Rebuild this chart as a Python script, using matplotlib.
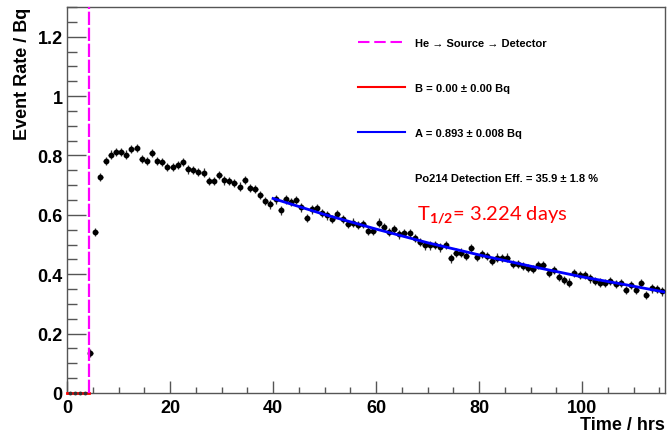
import matplotlib
matplotlib.use("Agg")
import matplotlib.pyplot as plt
import numpy as np
from matplotlib.lines import Line2D
from matplotlib.ticker import MultipleLocator

plt.rcParams["font.family"] = ["Liberation Sans", "DejaVu Sans"]
plt.rcParams["font.weight"] = "bold"
plt.rcParams["axes.labelweight"] = "bold"
plt.rcParams["mathtext.fontset"] = "custom"
plt.rcParams["mathtext.rm"] = "Lato"
plt.rcParams["mathtext.it"] = "Lato:italic"

# 1-hour bins, centres at 0.5 ... 115.5
bin_centres = np.arange(0.5, 116, 1.0)
rates = [
    0.0, 0.0, 0.0, 0.0, 0.135, 0.543, 0.727, 0.782, 0.803, 0.812,
    0.812, 0.803, 0.822, 0.825, 0.787, 0.781, 0.809, 0.781, 0.779, 0.762,
    0.760, 0.768, 0.779, 0.753, 0.751, 0.745, 0.742, 0.714, 0.713, 0.734,
    0.716, 0.713, 0.708, 0.695, 0.718, 0.690, 0.686, 0.666, 0.646, 0.635,
    0.652, 0.615, 0.652, 0.644, 0.651, 0.625, 0.590, 0.618, 0.622, 0.607,
    0.598, 0.585, 0.602, 0.585, 0.568, 0.574, 0.565, 0.568, 0.546, 0.546,
    0.574, 0.560, 0.543, 0.551, 0.534, 0.538, 0.538, 0.521, 0.509, 0.497,
    0.497, 0.498, 0.490, 0.498, 0.453, 0.473, 0.473, 0.462, 0.487, 0.459,
    0.468, 0.462, 0.445, 0.456, 0.454, 0.456, 0.434, 0.434, 0.427, 0.421,
    0.417, 0.430, 0.430, 0.403, 0.414, 0.391, 0.381, 0.372, 0.403, 0.397,
    0.397, 0.386, 0.378, 0.372, 0.370, 0.376, 0.368, 0.371, 0.347, 0.363,
    0.346, 0.370, 0.329, 0.352, 0.350, 0.342,
]
rate_err = 0.014

# He -> Source -> Detector switch time (hrs)
switch_time = 4.33

# background fit (B) and decay fit (A)
bkg_times = [0.0, switch_time]
bkg_level = [0.0, 0.0]
fit_times = [40, 50, 60, 70, 80, 90, 100, 108, 116]
fit_rates = [0.655, 0.601, 0.552, 0.506, 0.465, 0.427, 0.391, 0.366, 0.340]

rates_arr = np.array(rates)
empty = rates_arr == 0

fig = plt.figure(figsize=(6.68, 4.35), dpi=100)
ax = fig.add_axes([0.1003, 0.0943, 0.8945, 0.8874])

ax.plot(bkg_times, bkg_level, color="red", lw=2.0, clip_on=False, zorder=2.6)
ax.plot(bin_centres[empty], rates_arr[empty], "o", ms=1.8, color="#333333",
        clip_on=False, zorder=2.7)
ax.errorbar(bin_centres[~empty], rates_arr[~empty], yerr=rate_err, xerr=0.5,
            fmt="o", ms=3.2, color="black", ecolor="#333333", elinewidth=0.9,
            capsize=0, zorder=3)
ax.plot(fit_times, fit_rates, color="#0000ff", lw=2.0, zorder=4)
ax.axvline(switch_time, color="#ff00ff", lw=1.6, ls=(0, (6, 1.2)), zorder=5)

ax.set_xlim(0, 116)
ax.set_ylim(0, 1.3)
ax.xaxis.set_major_locator(MultipleLocator(20))
ax.xaxis.set_minor_locator(MultipleLocator(5))
ax.yaxis.set_major_locator(MultipleLocator(0.2))
ax.yaxis.set_minor_locator(MultipleLocator(0.05))
ax.yaxis.set_major_formatter(plt.FuncFormatter(lambda v, p: f"{v:g}"))

ax.tick_params(axis="both", which="both", direction="in", colors="#555555",
               labelcolor="black", labelsize=13, width=1.0)
ax.tick_params(axis="x", which="major", length=8.6, pad=4, top=False)
ax.tick_params(axis="x", which="minor", length=4.3, top=False)
ax.tick_params(axis="y", which="major", length=14, pad=3, right=False)
ax.tick_params(axis="y", which="minor", length=7, right=False)
for sp in ax.spines.values():
    sp.set_color("#555555")
    sp.set_linewidth(1.0)

ax.set_xlabel("Time / hrs", loc="right", fontsize=13, labelpad=0.5)
ax.set_ylabel("Event Rate / Bq", loc="top", fontsize=13, labelpad=5)

handles = [
    Line2D([], [], color="#ff00ff", lw=1.5, ls=(0, (5.5, 2.3))),
    Line2D([], [], color="red", lw=1.5),
    Line2D([], [], color="#0000ff", lw=1.5),
    Line2D([], [], color="none"),
]
labels = [
    "He \u2192 Source \u2192 Detector",
    "B = 0.00 \u00b1 0.00 Bq",
    "A = 0.893 \u00b1 0.008 Bq",
    "Po214 Detection Eff. = 35.9 \u00b1 1.8 %",
]
ax.legend(handles, labels, loc="upper left", bbox_to_anchor=(0.487, 0.919),
          frameon=False, fontsize=8, handlelength=4.2, handletextpad=0.9,
          labelspacing=3.15, borderpad=0, borderaxespad=0)

ax.text(68, 0.585, "T$_{1/2}$= 3.224 days", color="red", fontsize=14.5,
        family="Lato", fontweight="normal", va="baseline")

fig.savefig("out.png", dpi=100)
